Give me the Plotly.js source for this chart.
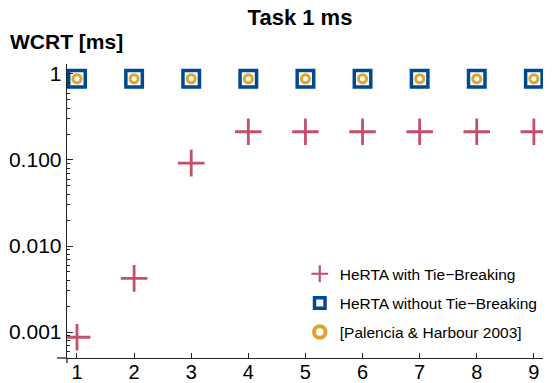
<!DOCTYPE html>
<html>
<head>
<meta charset="utf-8">
<script src="https://cdn.plot.ly/plotly-3.0.1.min.js"></script>
<style>html,body{margin:0;padding:0;background:#fff;}</style>
</head>
<body>
<div id="chart" style="width:557px;height:383px;"></div>
<script>
// Data
var tasks = [1, 2, 3, 4, 5, 6, 7, 8, 9];
var hertaTieBreaking = [0.00087, 0.0042, 0.092, 0.213, 0.213, 0.213, 0.213, 0.213, 0.213];
var hertaNoTieBreaking = [0.88, 0.88, 0.88, 0.88, 0.88, 0.88, 0.88, 0.88, 0.88];
var palencia2003 = [0.88, 0.88, 0.88, 0.88, 0.88, 0.88, 0.88, 0.88, 0.88];
var seriesNames = ["HeRTA with Tie\u2212Breaking", "HeRTA without Tie\u2212Breaking", "[Palencia & Harbour 2003]"];
var yTickVals = [0.001, 0.01, 0.1, 1];
var yTickText = ["0.001", "0.010", "0.100", "1"];
var xTickVals = [1, 2, 3, 4, 5, 6, 7, 8, 9];

var RED = "#C4506A", BLUE = "#004A8F", GOLD = "#DDA632";

var minorVals = [];
[0.0001, 0.001, 0.01, 0.1, 1].forEach(function (d) {
  for (var k = 2; k <= 9; k++) minorVals.push(d * k);
});

var traces = [
  { x: tasks, y: hertaNoTieBreaking, mode: "markers", type: "scatter", showlegend: false,
    marker: { symbol: "square-open", size: 16.5, color: BLUE, line: { width: 3.5, color: BLUE } } },
  { x: tasks, y: palencia2003, mode: "markers", type: "scatter", showlegend: false,
    marker: { symbol: "circle-open", size: 8, color: GOLD, line: { width: 3, color: GOLD } } },
  { x: tasks, y: hertaTieBreaking, mode: "markers", type: "scatter", showlegend: false,
    marker: { symbol: "cross-thin-open", size: 19, color: RED, line: { width: 2.8, color: RED } } },
  // legend entries
  { x: [null], y: [null], mode: "markers", type: "scatter", name: seriesNames[0], legendgroup: "a",
    marker: { symbol: "cross-thin-open", size: 12, color: RED, line: { width: 2.2, color: RED } } },
  { x: [null], y: [null], mode: "markers", type: "scatter", name: seriesNames[1], legendgroup: "b",
    marker: { symbol: "square-open", size: 10.5, color: BLUE, line: { width: 3.5, color: BLUE } } },
  { x: [null], y: [null], mode: "markers", type: "scatter", name: seriesNames[2], legendgroup: "c",
    marker: { symbol: "circle-open", size: 11.5, color: GOLD, line: { width: 4, color: GOLD } } }
];

var layout = {
  width: 557, height: 383,
  margin: { l: 67, r: 14, t: 64, b: 25, pad: 0 },
  paper_bgcolor: "#fff", plot_bgcolor: "#fff",
  font: { family: "Liberation Sans, Arial, sans-serif", color: "#000" },
  title: { text: "<b>Task 1 ms</b>", font: { size: 22, color: "#000" },
           xref: "container", x: 300 / 557, xanchor: "center",
           yref: "container", y: 0.975, yanchor: "top" },
  xaxis: {
    range: [0.825, 9.16], tickmode: "array", tickvals: xTickVals,
    ticks: "inside", ticklen: 5, tickwidth: 1, tickcolor: "#222",
    showline: true, linecolor: "#222", linewidth: 1.3,
    showgrid: false, zeroline: false, ticklabelstandoff: -4,
    tickfont: { size: 20, color: "#000" }
  },
  yaxis: {
    type: "log", range: [-3.302, 0.116], tickmode: "array",
    tickvals: yTickVals, ticktext: yTickText,
    ticks: "inside", ticklen: 6, tickwidth: 1, tickcolor: "#222",
    minor: { tickmode: "array", tickvals: minorVals, ticks: "inside", ticklen: 3, tickwidth: 1, tickcolor: "#222", showgrid: false },
    showline: true, linecolor: "#222", linewidth: 1.3,
    showgrid: false, zeroline: false,
    tickfont: { size: 21, color: "#000" }
  },
  legend: {
    x: 0.489, xanchor: "left", y: 0.343, yanchor: "top",
    font: { size: 15.5, color: "#000" }, bgcolor: "rgba(0,0,0,0)",
    tracegroupgap: 6, traceorder: "grouped"
  },
  annotations: [
    { text: "<b>WCRT [ms]</b>", xref: "paper", yref: "paper", x: (8 - 67) / 476, xanchor: "left",
      y: (358 - 42) / 294, yanchor: "middle", showarrow: false, font: { size: 21, color: "#000" } }
  ],
  shapes: [
    { type: "line", xref: "paper", yref: "paper", x0: -10 / 476, x1: 0, y0: 0, y1: 0, line: { color: "#222", width: 1.3 } },
    { type: "line", xref: "paper", yref: "paper", x0: 0, x1: 0, y0: 0, y1: -5 / 294, line: { color: "#222", width: 1.3 } }
  ]
};

Plotly.newPlot("chart", traces, layout, { displayModeBar: false, staticPlot: true });
</script>
</body>
</html>
